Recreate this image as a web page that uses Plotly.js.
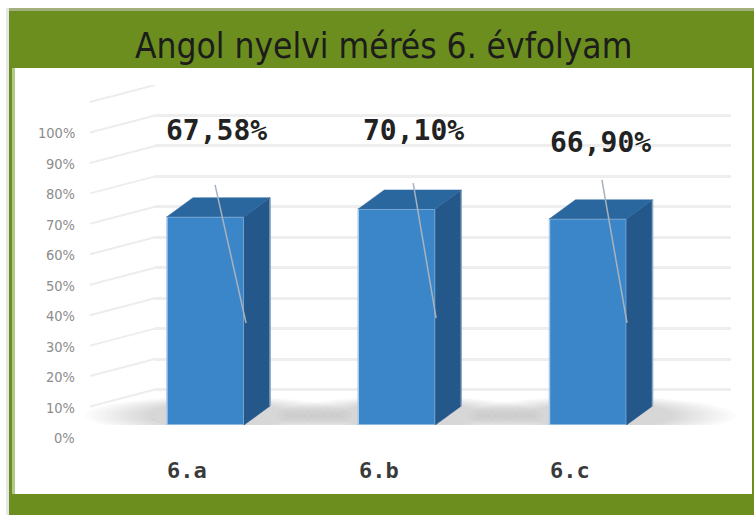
<!DOCTYPE html>
<html>
<head>
<meta charset="utf-8">
<script src="https://cdn.plot.ly/plotly-3.0.1.min.js"></script>
<style>html,body{margin:0;padding:0;background:#fff}#chart{width:754px;height:515px}</style>
</head>
<body>
<div id="chart"></div>
<script>
// ---- data ----
const categories = ['6.a', '6.b', '6.c'];
const values = [0.6758, 0.7010, 0.6690];
const tickValues = [0, 0.1, 0.2, 0.3, 0.4, 0.5, 0.6, 0.7, 0.8, 0.9, 1.0];
const titleText = 'Angol nyelvi mérés 6. évfolyam';

// ---- layout helpers (pixel geometry of the frame) ----
const W = 754, H = 515;
const px = x => x / W;
const py = y => (H - y) / H;

// label placement relative to each bar (x offset in category units, y in value units)
const labelPlace = [
  {dx: 0.057, y: 0.954, lx0: 0.050, ly0: 0.779, lx1: 0.212, ly1: 0.331},
  {dx: 0.086, y: 0.954, lx0: 0.086, ly0: 0.785, lx1: 0.206, ly1: 0.347},
  {dx: 0.063, y: 0.918, lx0: 0.073, ly0: 0.795, lx1: 0.204, ly1: 0.331}
];

const barW = 0.403;      // front face width (category units)
const depthX = 0.136;    // 3D depth offset, x (category units)
const depthY = 0.0617;   // 3D depth offset, y (value units)
const backScale = 304.5; // px per unit on back wall axis

const xs = categories.map((c, i) => i);
const traces = [];

// invisible trace to create the back-wall subplot
traces.push({x: [0], y: [0], xaxis: 'x', yaxis: 'y', mode: 'markers',
  marker: {opacity: 0}, hoverinfo: 'skip', showlegend: false});

// front faces
traces.push({
  type: 'bar', x: xs, y: values, width: barW, xaxis: 'x2', yaxis: 'y2',
  marker: {color: '#3A86C8', line: {color: '#A9CBEA', width: 1.5}},
  hoverinfo: 'skip', showlegend: false
});

// side and top faces (computed from values)
values.forEach((v, i) => {
  const r = i + barW / 2, l = i - barW / 2;
  traces.push({
    x: [r, r + depthX, r + depthX, r, r], y: [0, depthY, v + depthY, v, 0],
    xaxis: 'x2', yaxis: 'y2', mode: 'lines', fill: 'toself',
    fillcolor: '#25588A', line: {color: '#25588A', width: 0.5},
    hoverinfo: 'skip', showlegend: false
  });
  traces.push({
    x: [r + depthX, r + depthX], y: [depthY, v + depthY],
    xaxis: 'x2', yaxis: 'y2', mode: 'lines',
    line: {color: '#8FA9C2', width: 1.5}, hoverinfo: 'skip', showlegend: false
  });
  traces.push({
    x: [l, l + depthX, r + depthX, r, l], y: [v, v + depthY, v + depthY, v, v],
    xaxis: 'x2', yaxis: 'y2', mode: 'lines', fill: 'toself',
    fillcolor: '#2B679F', line: {color: '#2B679F', width: 0.5},
    hoverinfo: 'skip', showlegend: false
  });
  // leader line
  const p = labelPlace[i];
  traces.push({
    x: [i + p.lx0, i + p.lx1], y: [p.ly0, p.ly1],
    xaxis: 'x2', yaxis: 'y2', mode: 'lines',
    line: {color: '#A8B2BC', width: 1.5}, hoverinfo: 'skip', showlegend: false
  });
});

// ---- shapes: frame ----
const shapes = [
  {type: 'rect', xref: 'paper', yref: 'paper', x0: px(6), x1: px(9), y0: py(515), y1: py(8),
    fillcolor: '#E6E6E6', line: {width: 0}, layer: 'below'},
  {type: 'rect', xref: 'paper', yref: 'paper', x0: px(9), x1: px(754), y0: py(515), y1: py(8),
    fillcolor: '#6B8E1E', line: {width: 0}, layer: 'below'},
  {type: 'rect', xref: 'paper', yref: 'paper', x0: px(9), x1: px(754), y0: py(11), y1: py(8),
    fillcolor: '#A4AF7E', line: {width: 0}, layer: 'below'},
  {type: 'rect', xref: 'paper', yref: 'paper', x0: px(12), x1: px(15), y0: py(494), y1: py(68),
    fillcolor: '#B3C98A', line: {width: 0}, layer: 'below'},
  {type: 'rect', xref: 'paper', yref: 'paper', x0: px(15), x1: px(752), y0: py(494), y1: py(68),
    fillcolor: '#FFFFFF', line: {width: 0}, layer: 'below'}
];

// left wall diagonal lines (per tick, plus top edge)
const wallTicks = tickValues.concat([1.1]);
wallTicks.forEach(v => {
  shapes.push({type: 'line', xref: 'paper', yref: 'y', x0: px(90), x1: px(155),
    y0: v - 17 / backScale, y1: v, line: {color: '#EDEDED', width: 2}, layer: 'below'});
});

// floor shadows (soft, stacked low-opacity ellipses)
values.forEach((v, i) => {
  for (let k = 0; k < 10; k++) {
    const hw = 0.70 - k * 0.035;
    const hh = 0.032 - k * 0.0022;
    shapes.push({type: 'circle', xref: 'x2', yref: 'y2',
      x0: i + 0.07 - hw, x1: i + 0.07 + hw, y0: -hh, y1: depthY + hh,
      fillcolor: 'rgba(0,0,0,0.016)', line: {width: 0}, layer: 'below'});
  }
});

// ---- annotations ----
const annotations = [];
annotations.push({xref: 'paper', yref: 'paper', x: px(383), y: py(46), text: titleText,
  showarrow: false, xanchor: 'center', yanchor: 'middle',
  font: {family: 'DejaVu Sans Condensed', size: 35, color: '#1C1C1C'}});

tickValues.forEach(v => {
  annotations.push({xref: 'paper', yref: 'y', x: px(77), y: v, yshift: -18,
    text: Math.round(v * 100) + '%', showarrow: false, xanchor: 'right', yanchor: 'middle',
    font: {family: 'DejaVu Sans Condensed', size: 14.5, color: '#8C8C8C'}});
});

values.forEach((v, i) => {
  const p = labelPlace[i];
  annotations.push({xref: 'x2', yref: 'y2', x: i + p.dx, y: p.y,
    text: (v * 100).toFixed(2).replace('.', ',') + '%', showarrow: false,
    xanchor: 'center', yanchor: 'middle',
    font: {family: 'DejaVu Sans Mono', size: 28, color: '#222222', weight: 'bold'}});
});

categories.forEach((c, i) => {
  annotations.push({xref: 'x2', yref: 'paper', x: i - 0.095, y: py(470), text: c,
    showarrow: false, xanchor: 'center', yanchor: 'middle',
    font: {family: 'DejaVu Sans Mono', size: 22, color: '#3A3A3A', weight: 'bold'}});
});

const layout = {
  width: W, height: H,
  margin: {l: 0, r: 0, t: 0, b: 0, pad: 0},
  paper_bgcolor: '#FFFFFF', plot_bgcolor: 'rgba(0,0,0,0)',
  showlegend: false,
  xaxis: {domain: [px(155), px(731)], range: [0, 1], anchor: 'y', showgrid: false,
    zeroline: false, showticklabels: false, ticks: '', showline: false, fixedrange: true},
  yaxis: {domain: [py(420), py(85)], range: [0, 1.1], anchor: 'x', dtick: 0.1, tick0: 0,
    showgrid: true, gridcolor: '#EEEEEE', gridwidth: 3, zeroline: false,
    showticklabels: false, ticks: '', showline: false, fixedrange: true},
  xaxis2: {domain: [px(10), px(751)], range: [-1.0222, 2.8523], anchor: 'y2',
    showgrid: false, zeroline: false, showticklabels: false, ticks: '', showline: false,
    fixedrange: true},
  yaxis2: {domain: [py(425), py(86)], range: [0, 1.1], anchor: 'x2', showgrid: false,
    zeroline: false, showticklabels: false, ticks: '', showline: false, fixedrange: true},
  shapes: shapes,
  annotations: annotations
};

Plotly.newPlot('chart', traces, layout, {displayModeBar: false, staticPlot: true});
</script>
</body>
</html>
